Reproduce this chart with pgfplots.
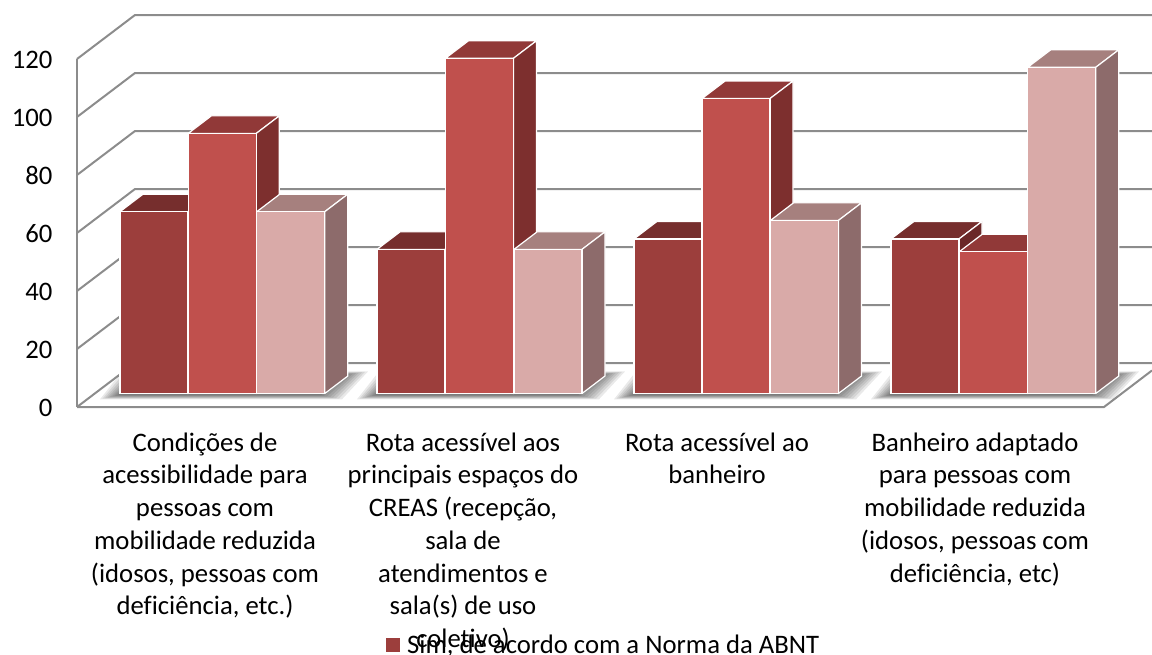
\documentclass[border=0pt]{standalone}
\usepackage{fontspec}
\setmainfont[Ligatures=NoCommon]{Carlito}
\usepackage{pgfplots}
\usepackage{pgfplotstable}
\pgfplotsset{compat=1.18}
\definecolor{gridc}{HTML}{8C8C8C}
\definecolor{aF}{HTML}{9C3E3C}\definecolor{aT}{HTML}{762E2D}\definecolor{aS}{HTML}{6B2828}
\definecolor{bF}{HTML}{C0504D}\definecolor{bT}{HTML}{913938}\definecolor{bS}{HTML}{7D2F2E}
\definecolor{cF}{HTML}{D9AAA8}\definecolor{cT}{HTML}{A6807E}\definecolor{cS}{HTML}{8D6B6B}
\pgfplotstableread{
x v
154 62.7
411 49.7
668 53.3
925 53.3
}\seriesA
\pgfplotstableread{
x v
222.3 89.7
479.5 115.6
736 101.7
993.3 48.9
}\seriesB
\pgfplotstableread{
x v
290.8 62.7
548 49.7
804.5 59.7
1061.8 112.5
}\seriesC
\newcommand\topside[4]{%
 \pgfmathsetmacro\xa{#1+34}\pgfmathsetmacro\xb{#1+57}\pgfmathsetmacro\xc{#1-11}\pgfmathsetmacro\xd{#1-34}\pgfmathsetmacro\vb{#2+6.03}%
 \addplot[fill=#3,draw=white,line width=1.2pt,line join=round,forget plot] coordinates {(\xd,#2)(\xa,#2)(\xb,\vb)(\xc,\vb)} --cycle;
 \addplot[fill=#4,draw=white,line width=1.2pt,line join=round,forget plot] coordinates {(\xa,0)(\xa,#2)(\xb,\vb)(\xb,6.03)} --cycle;
}
\newcommand\shadow[1]{%
 \pgfplotsinvokeforeach{0,1,2,3,4,5,6,7}{%
  \pgfmathsetmacro\sa{#1-20+##1*2.5}\pgfmathsetmacro\sb{#1+222-##1*3}\pgfmathsetmacro\sc{#1+248-##1*3}\pgfmathsetmacro\sd{#1+2+##1*3}%
  \pgfmathsetmacro\ya{-2+##1*0.2}\pgfmathsetmacro\yb{7.6-##1*0.15}%
  \addplot[fill=black,fill opacity=0.085,draw=none,forget plot] coordinates {(\sa,\ya)(\sb,\ya)(\sc,\yb)(\sd,\yb)} --cycle;
 }%
}
\begin{document}
\begin{tikzpicture}[x=1pt,y=1pt]
\useasboundingbox (0,0) rectangle (1152,-655);
% walls, floor, value axis and category labels
\begin{axis}[
 at={(77pt,-407pt)},anchor=south west,scale only axis,width=1075pt,height=348pt,
 xmin=77,xmax=1152,ymin=0,ymax=120,clip=false,
 axis y line*=left,axis x line*=bottom,
 y axis line style={draw=gridc,line width=2pt},
 x axis line style={draw=none},
 major tick length=0pt,
 ytick={0,20,40,60,80,100,120},
 xtick={205,463,717,975},
 xticklabels={
  {Condições de\\acessibilidade para\\pessoas com\\mobilidade reduzida\\(idosos, pessoas com\\deficiência, etc.)},
  {Rota acessível aos\\principais espaços do\\CREAS (recepção,\\sala de\\atendimentos e\\sala(s) de uso\\coletivo)},
  {Rota acessível ao\\banheiro},
  {Banheiro adaptado\\para pessoas com\\mobilidade reduzida\\(idosos, pessoas com\\deficiência, etc)}},
 /pgf/number format/assume math mode=true,
 yticklabel style={font=\fontsize{26.7}{30}\selectfont,text=black,xshift=-21pt,yshift=-0.7pt},
 xticklabel style={font=\fontsize{26.7}{32.7}\selectfont,align=center,anchor=north,text=black,yshift=-25.5pt,inner sep=0pt},
]
\addplot[gridc,line width=2pt,no marks] coordinates {(77,0)(135,15.17)(1152,15.17)};
\addplot[gridc,line width=2pt,no marks] coordinates {(77,20)(135,35.17)(1152,35.17)};
\addplot[gridc,line width=2pt,no marks] coordinates {(77,40)(135,55.17)(1152,55.17)};
\addplot[gridc,line width=2pt,no marks] coordinates {(77,60)(135,75.17)(1152,75.17)};
\addplot[gridc,line width=2pt,no marks] coordinates {(77,80)(135,95.17)(1152,95.17)};
\addplot[gridc,line width=2pt,no marks] coordinates {(77,100)(135,115.17)(1152,115.17)};
\addplot[gridc,line width=2pt,no marks] coordinates {(77,120)(135,135.17)(1152,135.17)};
\addplot[gridc,line width=2pt,no marks] coordinates {(77,0)(1104,0)(1152,12.6)};
\end{axis}
% bars
\begin{axis}[
 at={(0pt,-655pt)},anchor=south west,scale only axis,width=1152pt,height=655pt,
 xmin=0,xmax=1152,ymin=-90.172,ymax=135.69,clip=false,hide axis,
 legend style={draw=none,fill=none,at={(axis cs:386,-86.6)},anchor=west,inner sep=0pt,outer sep=0pt,
   font=\fontsize{26.7}{30}\selectfont,/tikz/every even column/.style={column sep=0pt}},
 legend cell align=left,
]
\shadow{120}\shadow{377}\shadow{634}\shadow{891}
\topside{154}{62.7}{aT}{aS}\topside{411}{49.7}{aT}{aS}\topside{668}{53.3}{aT}{aS}\topside{925}{53.3}{aT}{aS}
\addplot[ybar,bar width=68,bar shift=0pt,fill=aF,draw=white,line width=1.2pt,
  legend image code/.code={\fill[aF] (0pt,-6.5pt) rectangle (12.5pt,6pt);\path (18pt,0pt);}] table[x=x,y=v]{\seriesA};
\addlegendentry{Sim, de acordo com a Norma da ABNT}
\topside{222.3}{89.7}{bT}{bS}\topside{479.5}{115.6}{bT}{bS}\topside{736}{101.7}{bT}{bS}\topside{993.3}{48.9}{bT}{bS}
\addplot[ybar,bar width=68,bar shift=0pt,fill=bF,draw=white,line width=1.2pt,forget plot] table[x=x,y=v]{\seriesB};
\topside{290.8}{62.7}{cT}{cS}\topside{548}{49.7}{cT}{cS}\topside{804.5}{59.7}{cT}{cS}\topside{1061.8}{112.5}{cT}{cS}
\addplot[ybar,bar width=68,bar shift=0pt,fill=cF,draw=white,line width=1.2pt,forget plot] table[x=x,y=v]{\seriesC};
\end{axis}
\end{tikzpicture}
\end{document}
